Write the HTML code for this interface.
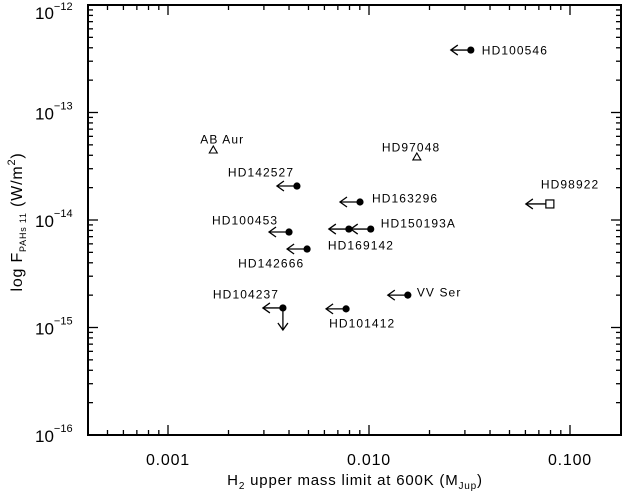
<!DOCTYPE html>
<html><head><meta charset="utf-8"><style>
html,body{margin:0;padding:0;background:#fff;}
svg{display:block;font-family:"Liberation Sans",sans-serif;}
</style></head><body>
<svg id="chart" width="633" height="494" viewBox="0 0 633 494">
<g id="axes"></g>
<g id="marks"></g>
<text x="355" y="485" font-size="15" text-anchor="middle" letter-spacing="0.8">H<tspan font-size="10" dy="4">2</tspan><tspan dy="-4"> upper mass limit at 600K (M</tspan><tspan font-size="10" dy="4">Jup</tspan><tspan dy="-4">)</tspan></text>
<text transform="translate(22,222) rotate(-90)" font-size="16" text-anchor="middle" letter-spacing="0.8">log F<tspan font-size="9" dy="4">PAHs 11</tspan><tspan dy="-4">  (W/m</tspan><tspan font-size="11" dy="-7">2</tspan><tspan dy="7">)</tspan></text>
</svg>
<script>
const names = ["HD100546","AB Aur","HD97048","HD142527","HD163296","HD98922","HD150193A","HD169142","HD100453","HD142666","VV Ser","HD104237","HD101412"];
const massLimit = [0.0321,0.00168,0.0173,0.00438,0.00902,0.0794,0.0102,0.00794,0.0040,0.00492,0.0156,0.00373,0.00769];
const pahFlux = [3.81e-13,4.48e-14,3.86e-14,2.07e-14,1.47e-14,1.41e-14,8.24e-15,8.24e-15,7.73e-15,5.37e-15,2.0e-15,1.52e-15,1.49e-15];
const symbols = ["dot","tri","tri","dot","dot","sq","dot","dot","dot","dot","dot","dot","dot"];
const upperX = [true,false,false,true,true,true,true,true,true,true,true,true,true];
const upperY = [false,false,false,false,false,false,false,false,false,false,false,true,false];
const xTickVals = [0.001,0.01,0.1];
const xTickLabels = ["0.001","0.010","0.100"];
const yTickExps = [-12,-13,-14,-15,-16];

const L=88,R=621,T=5,B=435;
const xL=Math.log10(0.001)-80/201, xR=-1+51/201;
const yT=-12, yB=-16;
function X(v){return L+(Math.log10(v)-xL)/(xR-xL)*(R-L);}
function Y(v){return T+(yT-Math.log10(v))/(yT-yB)*(B-T);}
const lblOff = [[11,0],[-13,-11],[-35,-10],[-69,-14],[12,-4],[-9,-20],[10,-6],[-21,16],[-77,-12],[-69,14],[9,-3],[-70,-14],[-17,14]];

const NS="http://www.w3.org/2000/svg";
function mk(tag,attrs,parent){const e=document.createElementNS(NS,tag);for(const k in attrs)e.setAttribute(k,attrs[k]);parent.appendChild(e);return e;}
const ax=document.getElementById('axes');
const frame=mk('rect',{x:L,y:T,width:R-L,height:B-T,fill:'none',stroke:'#000','stroke-width':2},ax);


for(let d=-4;d<=0;d++){for(let m=1;m<10;m++){const v=m*Math.pow(10,d);const px=X(v);if(px<L+1||px>R-1)continue;const len=m===1?10:5;
 const t1=mk('line',{x1:px,x2:px,y1:B,y2:B-len,stroke:'#000','stroke-width':1.3},ax);
 
 
 const t2=mk('line',{x1:px,x2:px,y1:T,y2:T+len,stroke:'#000','stroke-width':1.3},ax);
 
 }}
xTickVals.forEach((v,i)=>{const t=mk('text',{x:X(v),y:B+30,'font-size':16,'text-anchor':'middle','letter-spacing':'0.8'},ax);t.textContent=xTickLabels[i];
 
 });
for(let d=-17;d<=-12;d++){for(let m=1;m<10;m++){const v=m*Math.pow(10,d);const py=Y(v);if(py<T-0.5||py>B+0.5)continue;const len=m===1?10:5;
 const t1=mk('line',{x1:L,x2:L+len,y1:py,y2:py,stroke:'#000','stroke-width':1.3},ax);
 
 
 const t2=mk('line',{x1:R,x2:R-len,y1:py,y2:py,stroke:'#000','stroke-width':1.3},ax);
 
 }}
yTickExps.forEach(e=>{const py=Y(Math.pow(10,e));const top=e===-12;const t=mk('text',{x:35,y:py+(top?14:7),'font-size':17},ax);t.innerHTML='10<tspan font-size="11" dy="'+(top?-9:-10)+'">\u2212'+(-e)+'</tspan>';
 
 });
const mg=document.getElementById('marks');
names.forEach((n,i)=>{const g=mk('g',{},mg);
 
 
 const px=X(massLimit[i]),py=Y(pahFlux[i]);
 if(upperX[i]){const x0=(symbols[i]==='sq'?px-4:px);mk('line',{x1:x0,x2:x0-20,y1:py,y2:py,stroke:'#000','stroke-width':1.3},g);
  mk('polyline',{points:(x0-13)+','+(py-5)+' '+(x0-20)+','+py+' '+(x0-13)+','+(py+5),fill:'none',stroke:'#000','stroke-width':1.3},g);}
 if(upperY[i]){mk('line',{x1:px,x2:px,y1:py,y2:py+22,stroke:'#000','stroke-width':1.3},g);
  mk('polyline',{points:(px-5)+','+(py+15)+' '+px+','+(py+22)+' '+(px+5)+','+(py+15),fill:'none',stroke:'#000','stroke-width':1.3},g);}
 if(symbols[i]==='dot')mk('circle',{cx:px,cy:py,r:3.6,fill:'#000'},g);
 else if(symbols[i]==='tri')mk('polygon',{points:(px-4)+','+(py+3)+' '+(px+4)+','+(py+3)+' '+px+','+(py-4),fill:'none',stroke:'#000','stroke-width':1.1},g);
 else mk('rect',{x:px-4,y:py-4,width:8,height:8,fill:'none',stroke:'#000','stroke-width':1.2},g);
 const t=mk('text',{x:px+lblOff[i][0],y:py+lblOff[i][1]+4.5,'font-size':12,'letter-spacing':'1.1'},g);t.textContent=n;
 
 
});
</script>
</body></html>
